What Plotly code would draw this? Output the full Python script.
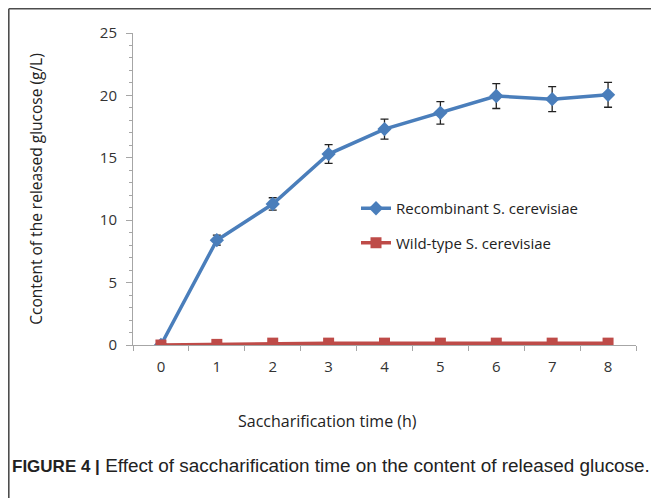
import plotly.graph_objects as go

time_h = [0, 1, 2, 3, 4, 5, 6, 7, 8]
recombinant = [0, 8.4, 11.3, 15.3, 17.3, 18.6, 19.95, 19.7, 20.05]
recombinant_err = [0, 0.4, 0.5, 0.75, 0.8, 0.9, 1.0, 1.0, 1.0]
wildtype = [0, 0.05, 0.15, 0.15, 0.15, 0.15, 0.15, 0.15, 0.15]

# page has an 8px body margin, so the figure starts at (8, 8)
W, H = 651, 490
L, T = 125, 25
pw, ph = 503, 312
R, B = W - L - pw, H - T - ph

fig = go.Figure()
fig.add_trace(go.Scatter(
    x=time_h, y=recombinant, mode="lines+markers",
    name="Recombinant S. cerevisiae", legendgroup="a",
    line=dict(color="#4a7ebb", width=3.5),
    marker=dict(symbol="diamond", size=11, color="#4a7ebb"),
    error_y=dict(type="data", array=recombinant_err, visible=True,
                 color="#222222", thickness=1.3, width=4),
))
fig.add_trace(go.Scatter(
    x=time_h, y=wildtype, mode="lines+markers",
    name="Wild-type S. cerevisiae", legendgroup="b",
    line=dict(color="#be4b48", width=3.5),
    marker=dict(symbol="square", size=11, color="#be4b48"),
))

fam = "Open Sans, Noto Sans, sans-serif"
tick_font = dict(family=fam, size=15, color="#333333")

fig.update_layout(
    width=W, height=H,
    margin=dict(l=L, r=R, t=T, b=B, autoexpand=False),
    paper_bgcolor="white", plot_bgcolor="white",
    showlegend=True,
    legend=dict(x=(348 - L) / pw, y=(337 - 184) / ph, xanchor="left", yanchor="top",
                bgcolor="rgba(0,0,0,0)", tracegroupgap=12,
                font=dict(family=fam, size=15, color="#222222"),
                itemwidth=30),
    xaxis=dict(
        range=[-0.5, 8.5], tickmode="array", tickvals=time_h,
        ticktext=[str(t) for t in time_h],
        showgrid=False, zeroline=False, showline=True, linecolor="#a6a6a6", linewidth=1,
        ticks="", tickfont=tick_font, ticklabelstandoff=8,
        minor=dict(tickmode="array", tickvals=[i - 0.5 for i in range(10)],
                   ticks="outside", ticklen=5, tickcolor="#a6a6a6", showgrid=False),
    ),
    yaxis=dict(
        range=[0, 25], tickmode="array", tickvals=[0, 5, 10, 15, 20, 25],
        showgrid=False, zeroline=False, showline=True, linecolor="#a6a6a6", linewidth=1,
        ticks="outside", ticklen=6, tickcolor="#a6a6a6", tickfont=tick_font,
        ticklabelstandoff=6,
        minor=dict(dtick=1, ticks="outside", ticklen=3, tickcolor="#a6a6a6", showgrid=False),
        title=dict(text="Ccontent of the released glucose (g/L)", standoff=53,
                   font=dict(family=fam, size=15.5, color="#222222")),
    ),
)

# x-axis title (offset left of the plot centre, as in the original)
fig.add_annotation(
    xref="paper", yref="paper", x=(319 - L) / pw, y=(ph + T - 413) / ph,
    xanchor="center", yanchor="middle", showarrow=False,
    text="Saccharification time (h)",
    font=dict(family=fam, size=16, color="#222222"),
)

# figure frame (top and left edges)
fig.add_shape(type="line", xref="paper", yref="paper",
              x0=(0.8 - L) / pw, x1=(W + 5 - L) / pw, y0=(ph + T - 0.8) / ph, y1=(ph + T - 0.8) / ph,
              line=dict(color="#4d4d4d", width=1.6))
fig.add_shape(type="line", xref="paper", yref="paper",
              x0=(0.8 - L) / pw, x1=(0.8 - L) / pw, y0=(ph + T - 0.8) / ph, y1=(ph + T - 510) / ph,
              line=dict(color="#4d4d4d", width=1.6))

fig.add_annotation(
    xref="paper", yref="paper", x=(2 - L) / pw, y=(ph + T - 457) / ph,
    xanchor="left", yanchor="middle", showarrow=False,
    text="<b><span style='font-size:17px'>FIGURE 4 |</span></b> Effect of saccharification time on the content of released glucose.",
    font=dict(family="Liberation Sans, Arial, sans-serif", size=18.9, color="#222222"),
)

fig.write_html("out.html")
